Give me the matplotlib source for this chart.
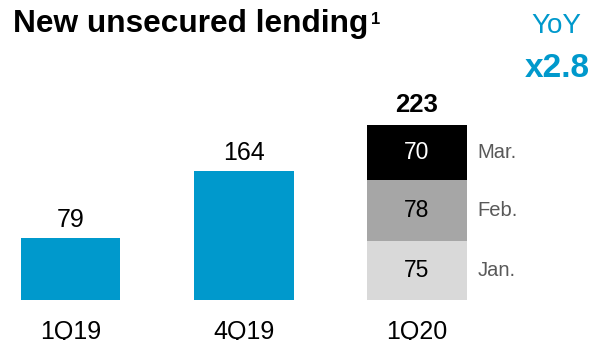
import matplotlib
matplotlib.use("Agg")
import matplotlib.pyplot as plt

plt.rcParams['font.family'] = ['Liberation Sans', 'DejaVu Sans']

categories = ["1Q19", "4Q19", "1Q20"]
single_values = [79, 164]
months = ["Jan.", "Feb.", "Mar."]
month_values = [75, 78, 70]
total_1q20 = 223
yoy_text = "x2.8"

BLUE = "#0099CC"
month_colors = ["#D9D9D9", "#A6A6A6", "#000000"]
month_text_colors = ["#000000", "#000000", "#FFFFFF"]

W, H = 596, 340
fig = plt.figure(figsize=(W / 100, H / 100), dpi=100)
ax = fig.add_axes([0, 0, 1, 1])
ax.set_axis_off()

# pixel mapping
spacing = 173.25
x0 = 70.5
base_px = 40  # from bottom
scale = 0.786
ax.set_xlim(-x0 / spacing, (W - x0) / spacing)
ax.set_ylim(-base_px / scale, (H - base_px) / scale)

bw = 0.575
xs = list(range(len(categories)))

# single bars
for i, v in enumerate(single_values):
    ax.bar(xs[i], v, width=bw, color=BLUE, edgecolor='none')
    ax.annotate(str(v), (xs[i], v), xytext=(0, 8), textcoords='offset points',
                ha='center', va='baseline', fontsize=18, color='black')

# stacked bar
bottom = 0
i3 = xs[2]
for m, v, c, tc in zip(months, month_values, month_colors, month_text_colors):
    ax.bar(i3, v, width=bw, bottom=bottom, color=c, edgecolor='none')
    ax.text(i3, bottom + v / 2, str(v), ha='center', va='center', fontsize=16.5, color=tc)
    ax.text(i3 + bw / 2 + 0.06, bottom + v / 2, m, ha='left', va='center',
            fontsize=14.5, color='#595959')
    bottom += v
ax.annotate(str(total_1q20), (i3, bottom), xytext=(0, 9), textcoords='offset points',
            ha='center', va='baseline', fontsize=18.5, fontweight='bold', color='black')

# category labels
for x, c in zip(xs, categories):
    ax.text(x, -39.5 / scale, c, ha='center', va='baseline', fontsize=18, color='black')

# title
fig.text(13 / W, 1 - 32 / H, "New unsecured lending", ha='left', va='baseline',
         fontsize=22.8, fontweight='bold', color='black')
fig.text(371 / W, 1 - 24 / H, "1", ha='left', va='baseline',
         fontsize=12, fontweight='bold', color='black')

# YoY
fig.text(556 / W, 1 - 33 / H, "YoY", ha='center', va='baseline', fontsize=20, color=BLUE)
fig.text(557 / W, 1 - 77 / H, yoy_text, ha='center', va='baseline', fontsize=24,
         fontweight='bold', color=BLUE)

fig.savefig("out.png", dpi=100)
